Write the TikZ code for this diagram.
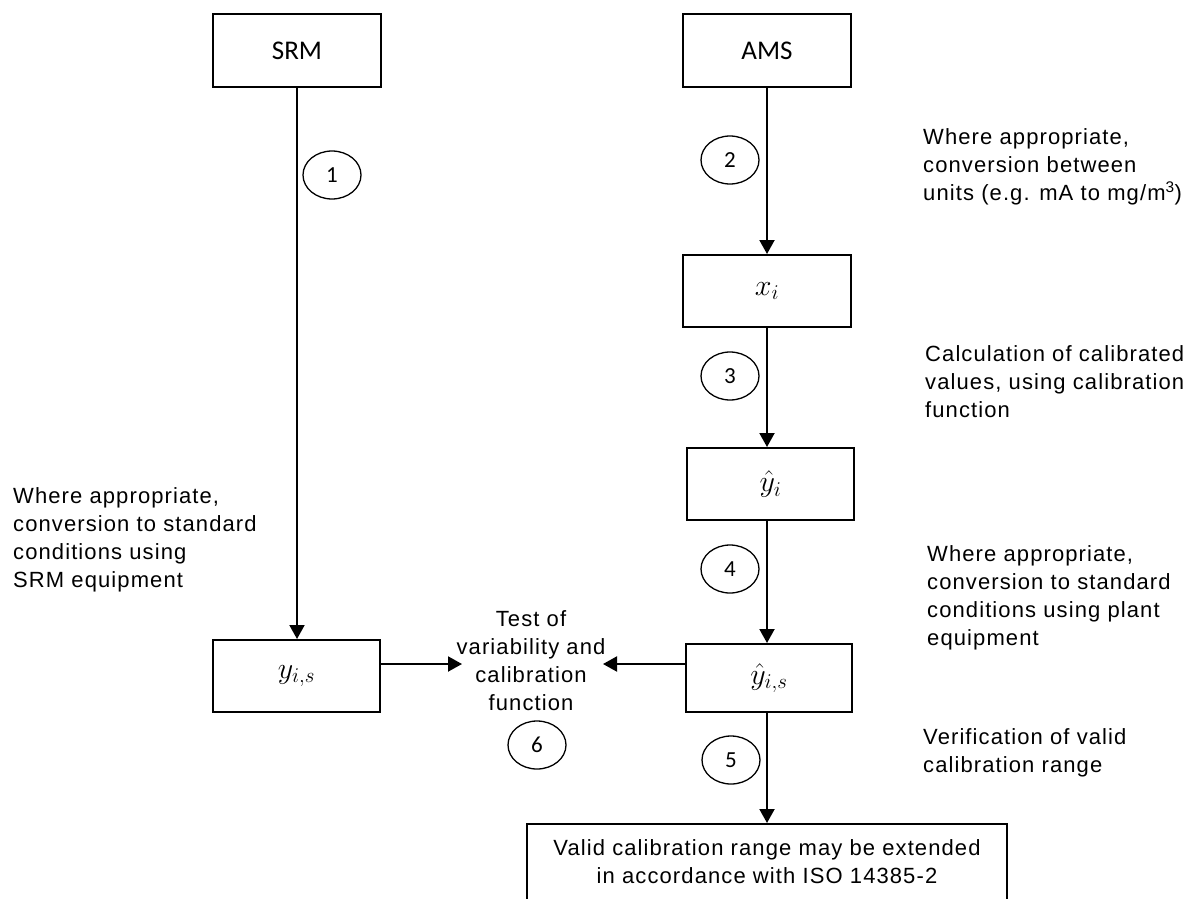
\RequirePackage{fix-cm}
\documentclass[tikz,border=0pt]{standalone}
\usepackage{fontspec}
\setmainfont{Liberation Sans}
\newfontfamily\calib{Carlito}
\newfontfamily\txtfont[LetterSpace=5]{Liberation Sans}
\usetikzlibrary{arrows.meta,shapes.geometric}
\tikzset{
  box/.style={draw, line width=2pt, minimum width=168pt, minimum height=72pt, inner sep=0pt,
    font=\fontsize{30}{34}\selectfont},
  titlebox/.style={box, font=\calib\fontsize{27}{30}\selectfont},
  num/.style={draw, ellipse, line width=1.3pt, minimum width=58pt, minimum height=48pt, inner sep=0pt,
    font=\calib\fontsize{23}{23}\selectfont},
  note/.style={align=left, anchor=north west, inner sep=0pt, font=\txtfont\fontsize{22}{28}\selectfont},
  cnote/.style={align=center, anchor=north, inner sep=0pt, font=\txtfont\fontsize{22}{28}\selectfont},
  arr/.style={line width=2pt, -{Triangle[length=14pt,width=15pt]}},
}
\begin{document}
\begin{tikzpicture}[x=1pt,y=-1pt]
\useasboundingbox[fill=white] (0,0) rectangle (1186,899);

% boxes
\node[titlebox] (srm) at (297,50.5) {SRM};
\node[titlebox] (ams) at (767,50.5) {AMS};
\node[box] (xi) at (767,291) {$x_i$};
\node[box, minimum width=167pt] (yhi) at (770.5,484) {$\hat{y}_i$};
\node[box, minimum width=166pt, minimum height=68pt] (yhis) at (769,678) {$\hat{y}_{i,s}$};
\node[box, minimum width=167pt] (yis) at (296.5,676) {$y_{i,s}$};
\node[draw, line width=2pt, minimum width=480pt, inner xsep=0pt, inner ysep=16pt, anchor=north,
  align=center, font=\txtfont\fontsize{22}{28}\selectfont] (bot) at (767,823)
  {Valid calibration range may be extended\\in accordance with ISO 14385-2};

% connectors
\draw[arr] (srm.south) -- (srm.south |- yis.north);
\draw[arr] (ams.south) -- (xi.north);
\draw[arr] (xi.south) -- (xi.south |- yhi.north);
\draw[arr] (xi.south |- yhi.south) -- (xi.south |- yhis.north);
\draw[arr] (xi.south |- yhis.south) -- (xi.south |- bot.north);

\node[cnote] (test) at (531,610) {Test of\\variability and\\calibration\\function};
\coordinate (tL) at (462,664);
\coordinate (tR) at (603,664);
\draw[arr] (yis.east |- tL) -- (tL);
\draw[arr] (yhis.west |- tR) -- (tR);

% numbered ellipses
\node[num] (c1) at (332,175) {1};
\node[num] (c2) at (730,160) {2};
\node[num] (c3) at (730,376) {3};
\node[num] (c4) at (730,569) {4};
\node[num] (c5) at (731,760) {5};
\node[num] (c6) at (537,745) {6};

% notes
\node[note] (n2) at (923,128) {Where appropriate,\\conversion between\\units (e.g. mA to mg/m\textsuperscript{3})};
\node[note] (n3) at (925,345) {Calculation of calibrated\\values, using calibration\\function};
\node[note] (n4) at (927,545) {Where appropriate,\\conversion to standard\\conditions using plant\\equipment};
\node[note] (n5) at (923,728) {Verification of valid\\calibration range};
\node[note] (n1) at (13,487) {Where appropriate,\\conversion to standard\\conditions using\\SRM equipment};
\end{tikzpicture}
\end{document}
